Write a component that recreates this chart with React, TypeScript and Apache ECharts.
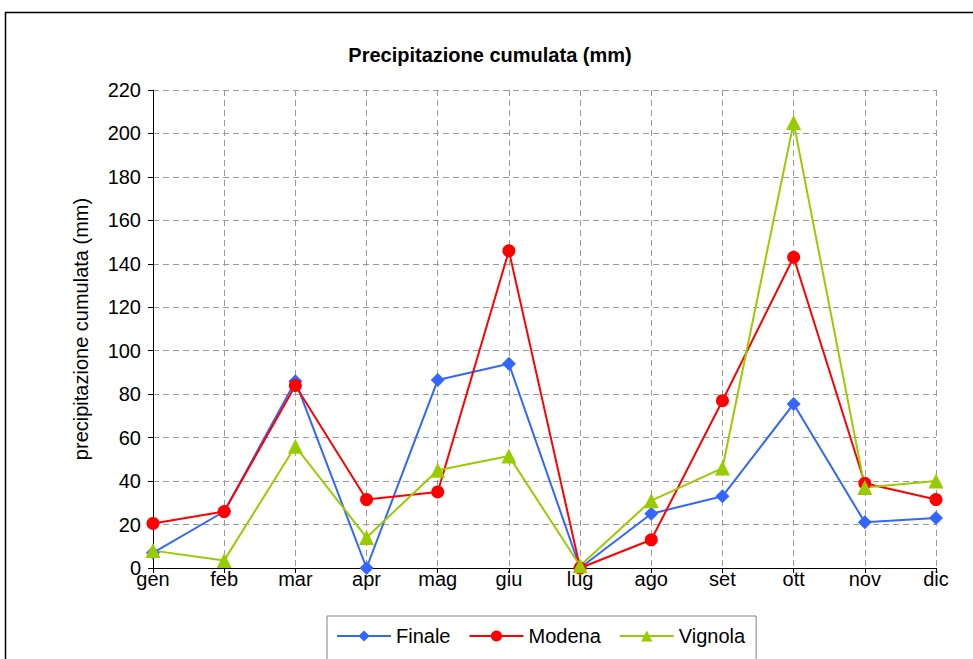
import React, { useEffect, useRef } from "react";
import * as echarts from "echarts";

const months = ["gen", "feb", "mar", "apr", "mag", "giu", "lug", "ago", "set", "ott", "nov", "dic"];
const finale = [7, 26, 86, 0, 86.5, 94, 0, 25, 33, 75.5, 21, 23];
const modena = [20.5, 26, 84, 31.5, 35, 146, 0, 13, 77, 143, 39, 31.5];
const vignola = [8, 3.5, 56, 14, 45, 51.5, 1, 31, 46, 205, 37, 40];
const yTicks = { min: 0, max: 220, interval: 20 };

const FONT = "'Liberation Sans', Arial, sans-serif";

export default function App() {
  const ref = useRef<HTMLDivElement>(null);
  useEffect(() => {
    const chart = echarts.init(ref.current!, undefined, { renderer: "svg" });
    const mk = (name: string, data: number[], color: string, symbol: string, size: number) => ({
      name,
      type: "line",
      data,
      symbol,
      symbolSize: size,
      itemStyle: { color },
      lineStyle: { color, width: 2 },
    });
    chart.setOption({
      animation: false,
      backgroundColor: "#fff",
      textStyle: { fontFamily: FONT },
      title: {
        text: "Precipitazione cumulata (mm)",
        left: 485,
        textAlign: "center",
        top: 40,
        textStyle: { fontFamily: FONT, fontSize: 20, fontWeight: "bold", color: "#000" },
      },
      graphic: [
        {
          type: "rect",
          shape: { x: 5.5, y: 12.5, width: 1000, height: 700 },
          style: { fill: "none", stroke: "#000", lineWidth: 1.5 },
          silent: true,
          z: -1,
        },
      ],
      legend: {
        left: 327,
        top: 616,
        itemWidth: 54,
        itemHeight: 14,
        itemGap: 18,
        padding: [10, 11, 14, 9],
        borderColor: "#808080",
        borderWidth: 1,
        textStyle: { fontFamily: FONT, fontSize: 20, color: "#000" },
        data: ["Finale", "Modena", "Vignola"],
      },
      grid: { left: 153, right: 37, top: 90, bottom: 91, containLabel: false },
      xAxis: {
        type: "category",
        data: months,
        boundaryGap: false,
        axisLine: { lineStyle: { color: "#000", width: 1 } },
        axisTick: { show: true, length: 5, lineStyle: { color: "#000" } },
        axisLabel: { color: "#000", fontSize: 20, fontFamily: FONT, margin: 4, lineHeight: 14 },
        splitLine: { show: true, lineStyle: { color: "#999", type: [6, 4], width: 1 } },
      },
      yAxis: {
        type: "value",
        min: yTicks.min,
        max: yTicks.max,
        interval: yTicks.interval,
        name: "precipitazione cumulata (mm)",
        nameLocation: "middle",
        nameGap: 62,
        nameTextStyle: { fontFamily: FONT, fontSize: 20, color: "#000" },
        axisLine: { show: true, lineStyle: { color: "#000", width: 1 } },
        axisTick: { show: true, length: 5, lineStyle: { color: "#000" } },
        axisLabel: { color: "#000", fontSize: 20, fontFamily: FONT, margin: 12, lineHeight: 12 },
        splitLine: { show: true, lineStyle: { color: "#999", type: [6, 4], width: 1 } },
      },
      series: [
        mk("Finale", finale, "#3366FF", "diamond", 14),
        mk("Modena", modena, "#FF0000", "circle", 13),
        mk("Vignola", vignola, "#99CC00", "triangle", 15),
      ],
    });
    return () => chart.dispose();
  }, []);
  return (
    <div
      ref={ref}
      style={{ position: "fixed", left: 0, top: 0, width: 973, height: 659, background: "#fff" }}
    />
  );
}
